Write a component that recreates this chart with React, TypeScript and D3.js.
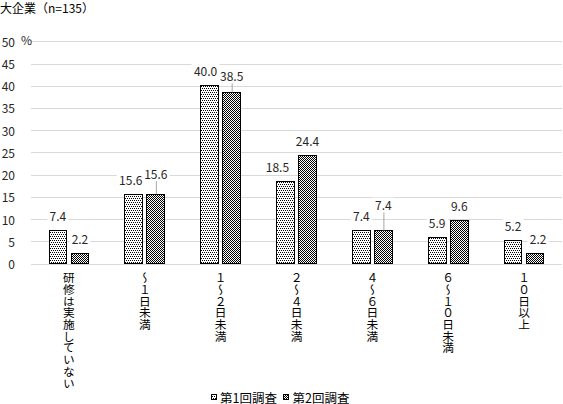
import React from "react";
import * as d3 from "d3";

const title = "大企業（n=135）";
const categories = [
  "研修は実施していない",
  "～１日未満",
  "１～２日未満",
  "２～４日未満",
  "４～６日未満",
  "６～１０日未満",
  "１０日以上",
];
const seriesNames = ["第1回調査", "第2回調査"];
const round1 = [7.4, 15.6, 40.0, 18.5, 7.4, 5.9, 5.2];
const round2 = [2.2, 15.6, 38.5, 24.4, 7.4, 9.6, 2.2];
const yTicks = [0, 5, 10, 15, 20, 25, 30, 35, 40, 45, 50];

// label nudges (layout only): [dx, dy, leader]
const nudges1: [number, number, boolean][] = [
  [0, 0, false], [-3, 0, false], [-4, 0, false], [-8, 0, false], [0, 0, false], [0, 0, false], [0, 0, false],
];
const nudges2: [number, number, boolean][] = [
  [0, 0, false], [0, -6, true], [0, -2, true], [0, 0, false], [0, -11, true], [0, 0, false], [3, 0, false],
];

const W = 563;
const H = 404;
const left = 31;
const right = 562;
const FONT = "'Noto Sans CJK JP', 'Noto Sans', sans-serif";

export default function App() {
  const x = d3.scaleBand<string>().domain(categories).range([left, right]).padding(0);
  const y = d3.scaleLinear().domain([0, 50]).range([263.5, 41.3]);
  const step = x.step();
  const bw = step * 0.234;
  const gap = step * 0.057;
  const series = [round1, round2];
  const nudges = [nudges1, nudges2];
  const fills = ["url(#pat1)", "url(#pat2)"];

  const labelW = (s: string) => s.replace(".", "").length * 6.9 + 3.4;

  return (
    <svg
      width={W}
      height={H}
      style={{ position: "absolute", left: 0, top: 0, background: "#fff" }}
      fontFamily={FONT}
    >
      <defs>
        <pattern id="pat1" width={2} height={4} patternUnits="userSpaceOnUse">
          <rect width={2} height={4} fill="#fff" />
          <rect x={0} y={0} width={1} height={1} fill="#000" />
          <rect x={1} y={2} width={1} height={1} fill="#000" />
        </pattern>
        <pattern id="pat2" width={2} height={2} patternUnits="userSpaceOnUse">
          <rect width={2} height={2} fill="#fff" />
          <rect x={0} y={0} width={1} height={1} fill="#000" />
          <rect x={1} y={1} width={1} height={1} fill="#000" />
        </pattern>
      </defs>
      <rect width={W} height={H} fill="#fff" />
      <text x={0} y={13} fontSize={12} fill="#000">{title}</text>

      {yTicks.map((t) => (
        <g key={t}>
          <line x1={left} x2={right} y1={Math.round(y(t)) + 0.5} y2={Math.round(y(t)) + 0.5} stroke="#d9d9d9" strokeWidth={1} />
          <text x={15} y={y(t)} fontSize={12} fill="#262626" textAnchor="end" dominantBaseline="central">{t}</text>
        </g>
      ))}
      <text x={21} y={39} fontSize={12} fill="#262626" dominantBaseline="central">%</text>

      {categories.map((c, i) => {
        const cx = (x(c) as number) + step / 2;
        return (
          <g key={c}>
            {series.map((s, k) => {
              const x0 = k === 0 ? cx - gap / 2 - bw : cx + gap / 2;
              const top = y(s[i]);
              return (
                <rect
                  key={k}
                  x={x0}
                  y={top}
                  width={bw}
                  height={y(0) - top}
                  fill={fills[k]}
                  stroke="#000"
                  strokeWidth={1}
                  shapeRendering="crispEdges"
                />
              );
            })}
            {series.map((s, k) => {
              const bc = k === 0 ? cx - gap / 2 - bw / 2 : cx + gap / 2 + bw / 2;
              const top = y(s[i]);
              const [dx, dy, leader] = nudges[k][i];
              const lx = bc + dx;
              const ly = top - 15 + dy;
              const txt = s[i].toFixed(1);
              const w = labelW(txt);
              return (
                <g key={"l" + k}>
                  {leader && (
                    <line x1={lx + 0.5} x2={lx + 0.5} y1={ly + 8} y2={top} stroke="#a6a6a6" strokeWidth={1} />
                  )}
                  <rect x={lx - w / 2 - 2} y={ly - 7} width={w + 4} height={14} fill="#fff" />
                  <text x={lx} y={ly} fontSize={12} fill="#262626" textAnchor="middle" dominantBaseline="central">
                    {txt}
                  </text>
                </g>
              );
            })}
            <text
              x={cx}
              y={272}
              fontSize={11.7}
              fill="#000"
              textAnchor="start"
              style={{ writingMode: "vertical-rl" as any }}
            >
              {c}
            </text>
          </g>
        );
      })}

      {seriesNames.map((n, k) => {
        const mx = k === 0 ? 211 : 283.5;
        return (
          <g key={n}>
            <rect x={mx} y={394.5} width={5} height={5} fill={fills[k]} stroke="#000" strokeWidth={1} shapeRendering="crispEdges" />
            <text x={mx + 9} y={397} fontSize={12.5} fill="#000" dominantBaseline="central">{n}</text>
          </g>
        );
      })}
    </svg>
  );
}
